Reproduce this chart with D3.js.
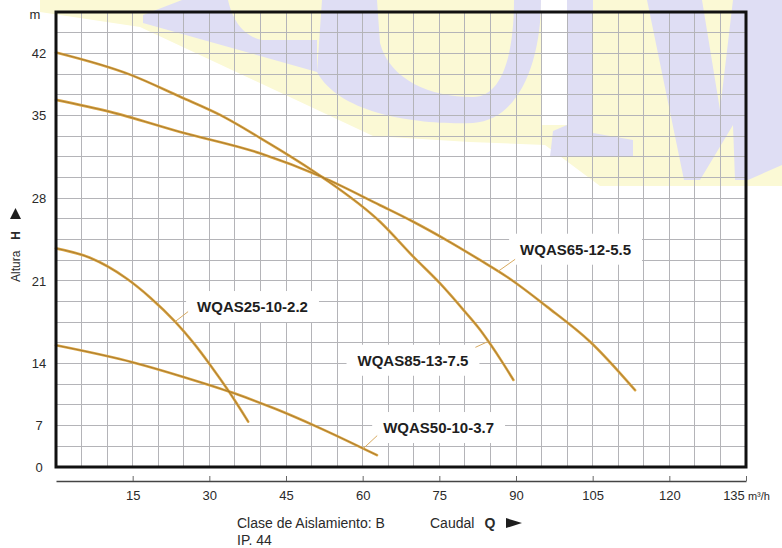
<!DOCTYPE html>
<html>
<head>
<meta charset="utf-8">
<script src="https://cdn.jsdelivr.net/npm/d3@7"></script>
<style>
  html, body { margin: 0; padding: 0; background: #ffffff; }
  svg { display: block; font-family: "Liberation Sans", Arial, Helvetica, sans-serif; }
</style>
</head>
<body>
<svg id="chart" width="782" height="548"></svg>
<script>
// ---------------- DATA ----------------
// Flow (Q, m³/h) tick labels
const qTicks = [15, 30, 45, 60, 75, 90, 105, 120, 135];
// Head (H, m) tick labels and the grid row each label sits on (the printed axis is uneven)
const hTicks = [0, 7, 14, 21, 28, 35, 42];
const hTickRow = [0, 2, 5, 9, 13, 17, 20];
const gridRowCount = 22;
const qGridStep = 5;
const qMax = 135;

// Pump curves: flow Q (m³/h) and head H (m)
const wqas85_q = [0, 14.5, 24.3, 32.1, 39.9, 52.0, 63.4, 69.9, 75.1, 79.7, 83.0, 84.9, 87.5, 89.5];
const wqas85_h = [42.1, 39.6, 37.1, 35.05, 33.1, 29.8, 26.0, 23.05, 20.8, 18.55, 16.85, 15.7, 14.0, 12.15];

const wqas65_q = [0, 10.6, 24.3, 39.9, 52.0, 63.4, 69.9, 76.4, 83.0, 88.2, 96.1, 104.5, 113.3];
const wqas65_h = [36.75, 35.4, 33.6, 31.8, 29.8, 27.4, 26.0, 24.45, 22.75, 21.35, 18.8, 15.85, 11.0];

const wqas25_q = [0, 6.65, 13.8, 18.4, 23.3, 26.9, 30.1, 34.0, 37.6];
const wqas25_h = [23.75, 22.95, 21.2, 19.6, 17.55, 15.75, 13.9, 10.7, 7.45];

const wqas50_q = [0, 15.1, 24.9, 34.6, 42.9, 51.1, 62.8];
const wqas50_h = [15.55, 14.1, 12.5, 10.7, 8.9, 6.8, 2.0];

const seriesNames = ["WQAS85-13-7.5", "WQAS65-12-5.5", "WQAS25-10-2.2", "WQAS50-10-3.7"];
const seriesQ = [wqas85_q, wqas65_q, wqas25_q, wqas50_q];
const seriesH = [wqas85_h, wqas65_h, wqas25_h, wqas50_h];
// flow at which each label's leader touches its curve
const labelQ = [84.6, 86.5, 23.3, 60.1];

// ---------------- LAYOUT ----------------
const frame = { left: 56, right: 746, top: 12, bottom: 467 };
const svg = d3.select("#chart");

const x = d3.scaleLinear().domain([0, qMax]).range([frame.left, frame.right]);
const rowY = d3.scaleLinear().domain([0, gridRowCount]).range([frame.bottom, frame.top]);
const y = d3.scaleLinear().domain(hTicks).range(hTickRow.map(r => rowY(r)));

// ---------------- WATERMARK (background) ----------------
const wm = svg.append("g").attr("class", "watermark");
const yellow = "#fbf9d5", lav = "#dfdef4";
wm.append("path").attr("fill", yellow)
  .attr("d", "M40,0 L782,0 L782,186 L600,186 L545,145 L470,142 L373,136 L140,27 L40,12 Z");
wm.append("rect").attr("x", 541).attr("y", 0).attr("width", 26).attr("height", 125).attr("fill", "#ffffff");
wm.append("path").attr("fill", lav)
  .attr("d", "M143,15 L182,0 L228,0 C232,18 242,36 262,40 L317,40 L317,72 L143,23 Z");
wm.append("path").attr("fill", lav).attr("fill-rule", "evenodd")
  .attr("d", "M322,0 L317,72 C340,115 420,125 473,123 C520,120 541,60 541,0 Z " +
             "M377,0 L380,43 C390,80 430,97 473,97 C500,97 514,60 514,0 Z");
wm.append("path").attr("fill", lav)
  .attr("d", "M567,0 L593,0 L593,133 L633,140 L633,157 L550,157 L553,131 L567,125 Z");
wm.append("path").attr("fill", lav)
  .attr("d", "M647,0 L702,0 L720,110 L733,0 L782,0 L782,165 L748,180 L735,180 L733,125 L700,180 L684,180 Z");

// ---------------- GRID ----------------
const grid = svg.append("g").attr("class", "grid")
  .attr("stroke", "#b4b4b8").attr("stroke-width", 1).attr("shape-rendering", "crispEdges");
grid.selectAll("line.v")
  .data(d3.range(qGridStep, qMax, qGridStep))
  .join("line").attr("class", "v")
  .attr("x1", d => x(d)).attr("x2", d => x(d))
  .attr("y1", frame.top).attr("y2", frame.bottom);
grid.selectAll("line.h")
  .data(d3.range(1, gridRowCount))
  .join("line").attr("class", "h")
  .attr("x1", frame.left).attr("x2", frame.right)
  .attr("y1", d => rowY(d)).attr("y2", d => rowY(d));

// ---------------- LABEL BACKGROUNDS + CURVES ----------------
const labelLayer = svg.append("g");
const curveLayer = svg.append("g");
const line = d3.line().x(d => x(d[0])).y(d => y(d[1])).curve(d3.curveMonotoneX);

const seriesData = seriesQ.map((qs, i) => qs.map((q, j) => [q, seriesH[i][j]]));

curveLayer.selectAll("path.outer").data(seriesData).join("path").attr("class", "outer")
  .attr("d", line).attr("fill", "none").attr("stroke", "#d8a343").attr("stroke-width", 2.6)
  .attr("stroke-linecap", "round");
curveLayer.selectAll("path.inner").data(seriesData).join("path").attr("class", "inner")
  .attr("d", line).attr("fill", "none").attr("stroke", "#8f6420").attr("stroke-width", 0.8)
  .attr("stroke-opacity", 0.75);

// label placement relative to the anchor point on the curve (pixels)
const labelLayout = [
  { leader: [-13, 6],  text: [-20, 19],  anchor: "end" },
  { leader: [17, -12], text: [22, -22],  anchor: "start" },
  { leader: [13, -10], text: [22, -15],  anchor: "start" },
  { leader: [14, -13], text: [20, -21],  anchor: "start" }
];

seriesNames.forEach((name, i) => {
  const hAt = d3.scaleLinear().domain(seriesQ[i]).range(seriesH[i])(labelQ[i]);
  const ax = x(labelQ[i]), ay = y(hAt);
  const L = labelLayout[i];
  curveLayer.append("line")
    .attr("x1", ax).attr("y1", ay)
    .attr("x2", ax + L.leader[0]).attr("y2", ay + L.leader[1])
    .attr("stroke", "#d8aa60").attr("stroke-width", 1);
  const t = curveLayer.append("text")
    .attr("x", ax + L.text[0]).attr("y", ay + L.text[1]).attr("dy", "0.36em")
    .attr("text-anchor", L.anchor)
    .attr("font-size", 15).attr("font-weight", "bold").attr("fill", "#1e1e1e")
    .text(name);
  const bb = t.node().getBBox();
  labelLayer.append("rect")
    .attr("x", bb.x - 11).attr("y", bb.y - 7)
    .attr("width", bb.width + 22).attr("height", bb.height + 14)
    .attr("fill", "#ffffff");
});

// ---------------- FRAME ----------------
svg.append("rect")
  .attr("x", frame.left).attr("y", frame.top)
  .attr("width", frame.right - frame.left).attr("height", frame.bottom - frame.top)
  .attr("fill", "none").attr("stroke", "#111").attr("stroke-width", 3);

// ---------------- AXES ----------------
const xAxisG = svg.append("g").attr("transform", "translate(0,481)")
  .call(d3.axisBottom(x).tickValues(qTicks).tickSizeInner(-5).tickSizeOuter(0).tickPadding(10));
xAxisG.select(".domain").attr("stroke", "#444").attr("stroke-width", 1.4);
xAxisG.selectAll(".tick line").attr("stroke", "#666");
xAxisG.selectAll(".tick text").attr("font-size", 13).attr("fill", "#2a2a2a")
  .attr("font-family", "'Liberation Sans', Arial, sans-serif");
xAxisG.selectAll(".tick text").filter(d => d === qMax)
  .text(null)
  .call(t => {
    t.append("tspan").text(String(qMax));
    t.append("tspan").attr("font-size", 11).text(" m³/h");
  });

const yAxisG = svg.append("g").attr("transform", `translate(${frame.left},0)`)
  .call(d3.axisLeft(y).tickValues(hTicks).tickSize(0).tickPadding(0));
yAxisG.select(".domain").remove();
yAxisG.selectAll(".tick text")
  .attr("x", -17).attr("text-anchor", "middle")
  .attr("font-size", 13).attr("fill", "#2a2a2a")
  .attr("font-family", "'Liberation Sans', Arial, sans-serif");

svg.append("text").attr("x", 35).attr("y", 14).attr("dy", "0.36em")
  .attr("text-anchor", "middle").attr("font-size", 13).attr("fill", "#2a2a2a").text("m");

// Y title
const yt = svg.append("g").attr("transform", "translate(20,282) rotate(-90)");
yt.append("text").attr("x", 0).attr("y", 0).attr("font-size", 12).attr("fill", "#2a2a2a")
  .call(t => {
    t.append("tspan").text("Altura");
    t.append("tspan").attr("dx", 11).attr("font-weight", "bold").text("H");
  });
yt.append("path").attr("d", "M63,-10 L74,-4.5 L63,1 Z").attr("fill", "#1e1e1e");

// bottom notes
svg.append("text").attr("x", 237).attr("y", 528).attr("font-size", 14).attr("fill", "#2a2a2a")
  .text("Clase de Aislamiento: B");
svg.append("text").attr("x", 237).attr("y", 545).attr("font-size", 14).attr("fill", "#2a2a2a")
  .text("IP. 44");
svg.append("text").attr("x", 430).attr("y", 528).attr("font-size", 14).attr("fill", "#2a2a2a")
  .call(t => {
    t.append("tspan").text("Caudal");
    t.append("tspan").attr("dx", 10).attr("font-weight", "bold").text("Q");
  });
svg.append("path").attr("d", "M506,518 L522,523 L506,528 Z").attr("fill", "#1e1e1e");
</script>
</body>
</html>
